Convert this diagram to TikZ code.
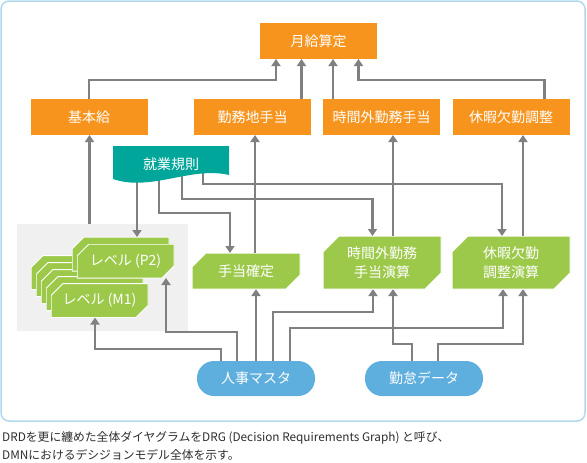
\documentclass[tikz,border=0pt]{standalone}
\usepackage{fontspec}
\setmainfont{Noto Sans CJK JP}
\usetikzlibrary{arrows.meta, positioning, backgrounds}
\definecolor{boxorange}{RGB}{247, 148, 30}
\definecolor{leafgreen}{RGB}{157, 201, 75}
\definecolor{rulesteal}{RGB}{0, 166, 153}
\definecolor{inputblue}{RGB}{94, 174, 222}
\definecolor{linegray}{RGB}{128, 128, 128}
\definecolor{panelgray}{RGB}{240, 240, 240}
\definecolor{frameblue}{RGB}{178, 216, 238}
\definecolor{captiongray}{RGB}{45, 45, 45}
\tikzset{
  resultbox/.style={rectangle, minimum width=117pt, minimum height=36pt,
    inner sep=0pt, outer sep=0pt, fill=boxorange, text=white,
    font=\fontsize{14}{17}\selectfont},
  calcbox/.style={rectangle, inner sep=0pt, outer sep=0pt, text=white,
    align=center, font=\fontsize{14}{19}\selectfont,
    path picture={\filldraw[fill=leafgreen, draw=white, line width=1pt]
      ([yshift=-#1pt]path picture bounding box.north west) --
      ([xshift=#1pt]path picture bounding box.north west) --
      (path picture bounding box.north east) --
      ([yshift=#1pt]path picture bounding box.south east) --
      ([xshift=-#1pt]path picture bounding box.south east) --
      (path picture bounding box.south west) -- cycle;}},
  calcbox/.default=14,
  levelbox/.style={calcbox=12, minimum width=97pt, minimum height=34pt,
    font=\fontsize{14}{16}\selectfont},
  docbox/.style={rectangle, minimum width=116pt, minimum height=38pt,
    inner sep=0pt, outer sep=0pt, text=white,
    font=\fontsize{14}{17}\selectfont,
    path picture={\fill[rulesteal]
      ([yshift=5pt]path picture bounding box.south west)
      .. controls ([xshift=38pt,yshift=-8pt]path picture bounding box.south west)
      and ([xshift=78pt,yshift=18pt]path picture bounding box.south west)
      .. ([yshift=9pt]path picture bounding box.south east) --
      (path picture bounding box.north east) --
      (path picture bounding box.north west) -- cycle;}},
  inputbox/.style={rectangle, rounded corners=17pt, minimum width=118pt,
    minimum height=35pt, inner sep=0pt, outer sep=0pt, fill=inputblue,
    text=white, font=\fontsize{14}{17}\selectfont},
  groupbox/.style={rectangle, minimum width=171pt, minimum height=107pt,
    inner sep=0pt, outer sep=0pt, fill=panelgray},
  arrow/.style={-{Triangle[width=9pt,length=7pt]}, color=linegray,
    line width=2.6pt}
}
\begin{document}
\begin{tikzpicture}[x=1pt, y=-1pt]
\useasboundingbox (0,0) rectangle (587,463);
\begin{scope}[on background layer]
\draw[frameblue, line width=1.5pt, rounded corners=8pt] (1,1) rectangle (585,421);
\node (group) [groupbox] at (102.5,277.5) {};
\end{scope}

\node (total)    [resultbox] at (318.5,41) {月給算定};
\node (base)     [resultbox] at (89,117)   {基本給};
\node (area)     [resultbox] at (252.5,117) {勤務地手当};
\node (overtime) [resultbox] at (381.5,117) {時間外勤務手当};
\node (leave)    [resultbox] at (511,117)  {休暇欠勤調整};

\node (rules) [docbox] at (171,165) {\raisebox{2pt}{就業規則}};

\foreach \k in {4,3,2,1}
  \node (mcopy\k) [levelbox] at ({99.5-5*\k},{300.5-7*\k}) {};
\node (pcopy)   [levelbox] at (120.5,254) {};
\node (levelP2) [levelbox] at (125.5,261) {レベル (P2)};
\node (levelM1) [levelbox] at (99.5,300.5) {レベル (M1)};

\node (allowance) [calcbox, minimum width=108pt, minimum height=36pt]
  at (246,271) {手当確定};
\node (otcalc)    [calcbox=16, minimum width=118pt, minimum height=53pt]
  at (382,262.5) {時間外勤務\\手当演算};
\node (leavecalc) [calcbox=16, minimum width=118pt, minimum height=53pt]
  at (511,262.5) {休暇欠勤\\調整演算};

\node (hr)     [inputbox] at (256,378.5) {人事マスタ};
\node (attend) [inputbox] at (424,378.5) {勤怠データ};

\node (caption) [anchor=north west, align=left, inner sep=0pt,
  text=captiongray, font=\fontsize{11.8}{18}\selectfont] at (2,431)
  {DRDを更に纏めた全体ダイヤグラムをDRG (Decision Requirements Graph) と呼び、\\
   DMNにおけるデシジョンモデル全体を示す。};

\begin{scope}[on background layer]
\draw[arrow] (base.north) -- ++(0,-19) -| ([xshift=-42.5pt]total.south);
\draw[arrow] ([xshift=49pt]area.north) -- ([xshift=-17pt]total.south);
\draw[arrow] ([xshift=-48.5pt]overtime.north) -- ([xshift=14.5pt]total.south);
\draw[arrow] ([xshift=33.5pt]leave.north) -- ++(0,-19) -| ([xshift=40pt]total.south);

\draw[arrow] ([xshift=-13pt]group.north) -- ([xshift=0.5pt]base.south);
\draw[arrow] ([xshift=9pt]allowance.north) -- ([xshift=2.5pt]area.south);
\draw[arrow] ([xshift=11pt]otcalc.north) -- ([xshift=11.5pt]overtime.south);
\draw[arrow] ([xshift=12pt]leavecalc.north) -- ([xshift=12pt]leave.south);

\draw[arrow] ([xshift=-34pt]rules.center) -- ([xshift=16.5pt]pcopy.north);
\draw[arrow] ([xshift=-12pt]rules.center) -- ++(0,48) -| ([xshift=-16pt]allowance.north);
\draw[arrow] ([xshift=11pt]rules.center) -- ++(0,34) -| ([xshift=-9.5pt]otcalc.north);
\draw[arrow] ([xshift=32pt]rules.center) -- ++(0,19) -| ([xshift=-9pt]leavecalc.north);

\draw[arrow] ([xshift=-35pt]hr.north) -- ++(0,-12) -| ([xshift=-4.5pt]levelM1.south);
\draw[arrow] ([xshift=-19pt]hr.north) -- ++(0,-29) -| ([xshift=40.5pt]levelP2.south);
\draw[arrow] (hr.north) -- ([xshift=10pt]allowance.south);
\draw[arrow] ([xshift=17pt]hr.north) -- ++(0,-49) -| ([xshift=-9pt]otcalc.south);
\draw[arrow] ([xshift=34pt]hr.north) -- ++(0,-33) -| ([xshift=-8pt]leavecalc.south);
\draw[arrow] ([xshift=-12pt]attend.north) -- ++(0,-17) -| ([xshift=11pt]otcalc.south);
\draw[arrow] ([xshift=14pt]attend.north) -- ++(0,-17) -| ([xshift=12pt]leavecalc.south);
\end{scope}
\end{tikzpicture}
\end{document}
